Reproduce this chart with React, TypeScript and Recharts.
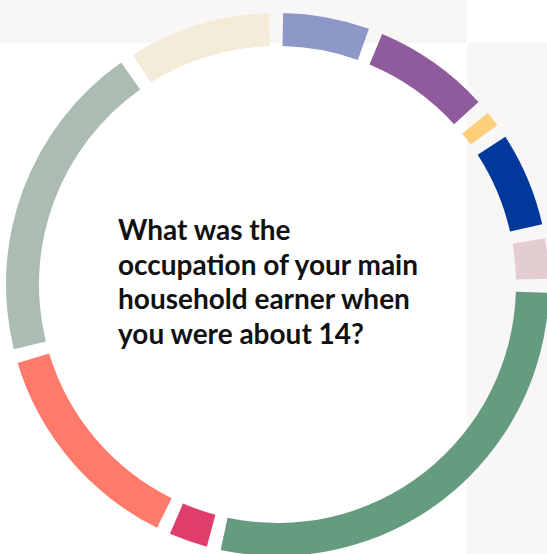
import { PieChart, Pie, Cell } from "recharts";

// share of respondents (%), clockwise from the top
const categories = [
  "Lavender",
  "Purple",
  "Yellow",
  "Blue",
  "Pink",
  "Green",
  "Magenta",
  "Salmon",
  "Sage",
  "Beige",
];
const values = [5.6, 7.6, 1.0, 6.1, 2.6, 30.4, 2.5, 14.2, 20.8, 9.2];
const colors = [
  "#8e98c8",
  "#8f5b9c",
  "#fecf7a",
  "#00389c",
  "#e4cdd1",
  "#659c80",
  "#e03d6d",
  "#ff7a6a",
  "#abbdb3",
  "#f4ebd9",
];
const questionLines = [
  "What was the",
  "occupation of your main",
  "household earner when",
  "you were about 14?",
];

const data = categories.map((name, i) => ({ name, value: values[i] }));

export default function App() {
  return (
    <div
      style={{
        position: "absolute",
        left: 0,
        top: 0,
        width: 547,
        height: 554,
        overflow: "hidden",
        background: "#ffffff",
      }}
    >
      <div style={{ position: "absolute", left: 0, top: 0, width: 467, height: 43, background: "#f8f6f7" }} />
      <div style={{ position: "absolute", left: 467, top: 43, width: 80, height: 511, background: "#f8f6f7" }} />
      <div style={{ position: "absolute", left: 0, top: 0 }}>
        <PieChart width={547} height={554} margin={{ top: 0, right: 0, bottom: 0, left: 0 }}>
          <Pie
            data={data}
            dataKey="value"
            nameKey="name"
            cx={277.5}
            cy={284.5}
            innerRadius={238.5}
            outerRadius={271.5}
            startAngle={88.8}
            endAngle={-271.2}
            paddingAngle={3}
            stroke="none"
            isAnimationActive={false}
          >
            {data.map((d, i) => (
              <Cell key={d.name} fill={colors[i]} />
            ))}
          </Pie>
        </PieChart>
      </div>
      <div
        style={{
          position: "absolute",
          left: 118,
          top: 212,
          fontFamily: "Lato, sans-serif",
          fontWeight: 700,
          fontSize: 28,
          lineHeight: "34.7px",
          color: "#111111",
          whiteSpace: "nowrap",
        }}
      >
        {questionLines.map((l) => (
          <div key={l}>{l}</div>
        ))}
      </div>
    </div>
  );
}
